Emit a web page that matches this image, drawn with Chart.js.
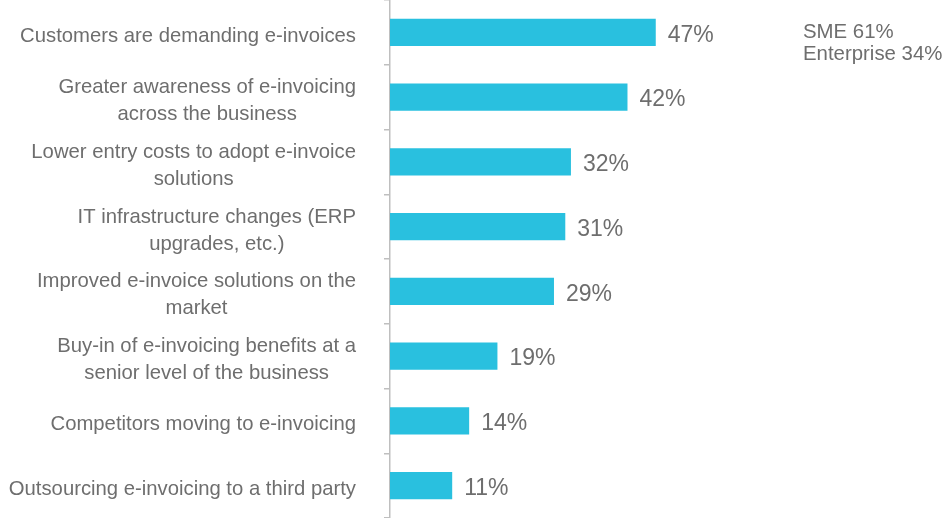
<!DOCTYPE html>
<html>
<head>
<meta charset="utf-8">
<title>e-invoicing drivers</title>
<script src="https://cdn.jsdelivr.net/npm/chart.js@4.4.0/dist/chart.umd.min.js"></script>
<style>
  body { margin: 0; background: #fff; }
  #wrap { position: relative; width: 943px; height: 518px; }
  #note {
    position: absolute; left: 803px; top: 20px;
    font: 20.4px "Liberation Sans", Arial, sans-serif;
    line-height: 22px; color: #6e6e6e;
  }
</style>
</head>
<body>
<div id="wrap">
  <canvas id="barChart"></canvas>
  <div id="note">SME 61%<br>Enterprise 34%</div>
</div>
<script>
// ============================================================
// data
// ============================================================
const categories = [
  ['Customers are demanding e-invoices'],
  ['Greater awareness of e-invoicing', 'across the business'],
  ['Lower entry costs to adopt e-invoice', 'solutions'],
  ['IT infrastructure changes (ERP', 'upgrades, etc.)'],
  ['Improved e-invoice solutions on the', 'market'],
  ['Buy-in of e-invoicing benefits at a', 'senior level of the business'],
  ['Competitors moving to e-invoicing'],
  ['Outsourcing e-invoicing to a third party']
];
const values = [47, 42, 32, 31, 29, 19, 14, 11];

const BAR_COLOR = '#29C0DF';
const TEXT_COLOR = '#6e6e6e';
const AXIS_COLOR = '#BFBFBF';
const FONT = '"Liberation Sans", Arial, sans-serif';

// category labels (right edge fixed, lines centred in their block) + value labels
const textPlugin = {
  id: 'textLabels',
  afterDraw(chart) {
    const ctx = chart.ctx;
    const yScale = chart.scales.y;
    const meta = chart.getDatasetMeta(0);
    const labelRight = yScale.right - 34;
    const lineH = 27;

    ctx.save();
    ctx.fillStyle = TEXT_COLOR;
    ctx.textBaseline = 'middle';

    ctx.font = '20.3px ' + FONT;
    ctx.textAlign = 'center';
    categories.forEach((lines, i) => {
      const y = yScale.getPixelForTick(i) + 4;
      const w = Math.max(...lines.map(l => ctx.measureText(l).width));
      const cx = labelRight - w / 2;
      lines.forEach((l, j) => {
        ctx.fillText(l, cx, y + (j - (lines.length - 1) / 2) * lineH);
      });
    });

    ctx.font = '23px ' + FONT;
    ctx.textAlign = 'left';
    meta.data.forEach((bar, i) => {
      ctx.fillText(values[i] + '%', bar.x + 12, bar.y + 3);
    });
    ctx.restore();
  }
};

const ctx = document.getElementById('barChart').getContext('2d');
const myChart = new Chart(ctx, {
  type: 'bar',
  data: {
    labels: categories,
    datasets: [{
      data: values,
      backgroundColor: BAR_COLOR,
      borderWidth: 0,
      barPercentage: 0.42,
      categoryPercentage: 1
    }]
  },
  options: {
    indexAxis: 'y',
    responsive: true,
    maintainAspectRatio: false,
    animation: false,
    layout: { padding: { top: 0, bottom: 0, left: 0, right: 13 } },
    plugins: {
      legend: { display: false },
      tooltip: { enabled: false }
    },
    scales: {
      x: {
        display: false,
        min: 0,
        max: 95.5
      },
      y: {
        afterFit(scale) { scale.width = 390; },
        ticks: { display: false },
        grid: {
          offset: true,
          drawOnChartArea: false,
          drawTicks: true,
          tickLength: 6,
          color: AXIS_COLOR,
          lineWidth: 1.5
        },
        border: { display: true, color: AXIS_COLOR, width: 1.5 }
      }
    }
  },
  plugins: [textPlugin]
});
</script>
</body>
</html>
